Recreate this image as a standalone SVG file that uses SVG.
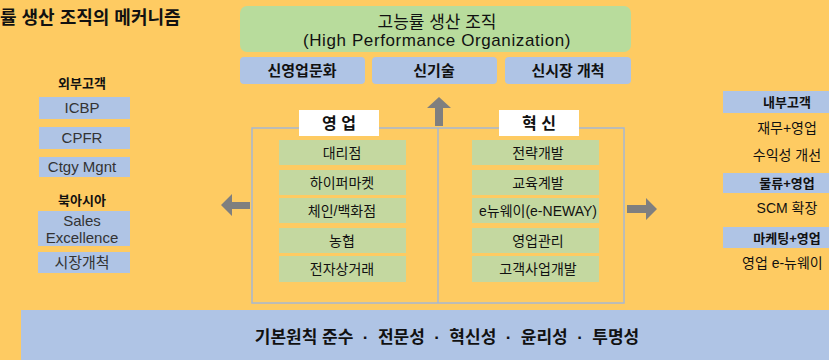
<svg xmlns="http://www.w3.org/2000/svg" width="829" height="360" viewBox="0 0 829 360">
<defs>
<style>
text{font-family:"Liberation Sans","Noto Sans CJK KR",sans-serif;fill:#111;text-anchor:middle}
.b{font-weight:bold}
.blue{fill:#AFC4E5}
.grn{fill:#C4D8A0}
.arr{fill:#7F7F7F}
.lt{font-size:15px;fill:#333}
.it{font-size:14px}
</style>
</defs>
<rect width="829" height="360" fill="#FECB62"/>
<text x="0" y="24" class="b" style="font-size:18px;text-anchor:start">률 생산 조직의 메커니즘</text>

<g id="top">
<rect x="240" y="6" width="391" height="46" rx="7" fill="#B8DC9C"/>
<text x="437" y="28" style="font-size:17px">고능률 생산 조직</text>
<text x="437" y="46" style="font-size:17px;letter-spacing:0.6px">(High Performance Organization)</text>
</g>
<g id="culture"><rect x="240" y="57" width="125" height="27" rx="4" class="blue"/><text x="302" y="76" class="b" style="font-size:15px">신영업문화</text></g>
<g id="tech"><rect x="372" y="57" width="125" height="27" rx="4" class="blue"/><text x="434" y="76" class="b" style="font-size:15px">신기술</text></g>
<g id="market"><rect x="505" y="57" width="126" height="27" rx="4" class="blue"/><text x="568" y="76" class="b" style="font-size:15px">신시장 개척</text></g>

<g id="frame">
<rect x="252" y="128" width="372" height="175" fill="none" stroke="#A7B8D2" stroke-width="1.5"/>
<line x1="438" y1="128" x2="438" y2="303" stroke="#A7B8D2" stroke-width="1.5"/>
</g>

<g id="connectors">
<polygon class="arr" points="439,97 451,108 443,108 443,126 435,126 435,108 427,108"/>
<polygon class="arr" points="221,205 232,194 232,202 250,202 250,209 232,209 232,216"/>
<polygon class="arr" points="657,209 646,198 646,205 627,205 627,213 646,213 646,220"/>
</g>

<g id="sales">
<rect x="299" y="110" width="80" height="26" fill="#fff"/>
<text x="339" y="129" class="b" style="font-size:16px">영 업</text>
<rect x="279" y="140" width="127" height="25" class="grn"/><text x="342" y="158" class="it">대리점</text>
<rect x="279" y="170" width="127" height="25" class="grn"/><text x="342" y="188" class="it">하이퍼마켓</text>
<rect x="279" y="198" width="127" height="25" class="grn"/><text x="342" y="216" class="it">체인/백화점</text>
<rect x="279" y="228" width="127" height="25" class="grn"/><text x="342" y="246" class="it">농협</text>
<rect x="279" y="256" width="127" height="26" class="grn"/><text x="342" y="274" class="it">전자상거래</text>
</g>
<g id="innovation">
<rect x="499" y="110" width="80" height="26" fill="#fff"/>
<text x="539" y="129" class="b" style="font-size:16px">혁 신</text>
<rect x="472" y="140" width="127" height="25" class="grn"/><text x="538" y="158" class="it">전략개발</text>
<rect x="472" y="170" width="127" height="25" class="grn"/><text x="538" y="188" class="it">교육계발</text>
<rect x="472" y="198" width="127" height="25" class="grn"/><text x="538" y="216" class="it">e뉴웨이(e-NEWAY)</text>
<rect x="472" y="228" width="127" height="25" class="grn"/><text x="538" y="246" class="it">영업관리</text>
<rect x="472" y="256" width="127" height="26" class="grn"/><text x="538" y="274" class="it">고객사업개발</text>
</g>

<g id="external">
<text x="82" y="88" class="b" style="font-size:13px">외부고객</text>
<rect x="39" y="97" width="91" height="22" class="blue"/><text x="82" y="113" class="lt">ICBP</text>
<rect x="39" y="127" width="91" height="22" class="blue"/><text x="82" y="143" class="lt">CPFR</text>
<rect x="39" y="157" width="91" height="20" class="blue"/><text x="82" y="172" class="lt">Ctgy Mgnt</text>
</g>
<g id="northasia">
<text x="82" y="205" class="b" style="font-size:13px">북아시아</text>
<rect x="38" y="211" width="92" height="35" class="blue"/><text x="82" y="226" class="lt">Sales</text><text x="82" y="243" class="lt">Excellence</text>
<rect x="38" y="252" width="92" height="21" class="blue"/><text x="82" y="268" class="lt">시장개척</text>
</g>

<g id="internal">
<rect x="723" y="91" width="106" height="22" class="blue"/><text x="787" y="107" class="b" style="font-size:13px">내부고객</text>
<text x="787" y="133" class="it">재무+영업</text>
<text x="787" y="160" class="it">수익성 개선</text>
<rect x="723" y="173" width="106" height="20" class="blue"/><text x="787" y="188" class="b" style="font-size:13px">물류+영업</text>
<text x="787" y="213" class="it">SCM 확장</text>
<rect x="723" y="227" width="106" height="21" class="blue"/><text x="787" y="243" class="b" style="font-size:13px">마케팅+영업</text>
<text x="742" y="268" class="it" style="text-anchor:start">영업 e-뉴웨이</text>
</g>

<g id="base">
<rect x="21" y="310" width="808" height="50" fill="#AFC4E5"/>
<text x="447" y="343" class="b" style="font-size:17px;white-space:pre" xml:space="preserve">기본원칙 준수  ·  전문성  ·  혁신성  ·  윤리성  ·  투명성</text>
</g>
</svg>
